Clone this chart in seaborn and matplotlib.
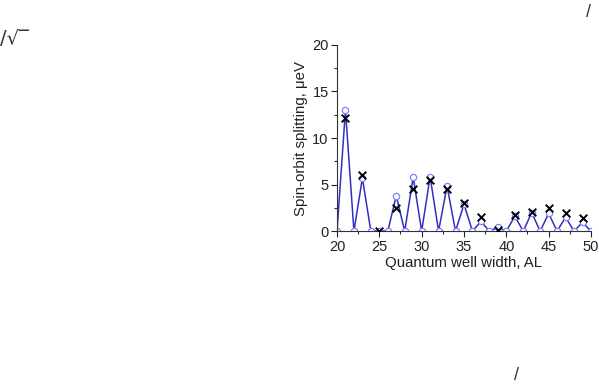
import numpy as np
import pandas as pd
import matplotlib
matplotlib.use("Agg")
import matplotlib.pyplot as plt
import seaborn as sns
from matplotlib.ticker import MultipleLocator

# quantum well width (atomic layers)
width = list(range(20, 51))
# calculated splitting (blue line with open circles)
calc = [0, 13.0, 0, 5.7, 0, 0.05, 0, 3.8, 0, 5.8, 0,
        5.85, 0, 4.85, 0, 2.9, 0, 1.05, 0, 0.4, 0,
        1.6, 0, 2.0, 0, 1.9, 0, 1.5, 0, 0.95, 0]
# odd widths, second model (black crosses)
odd_width = list(range(21, 50, 2))
model = [12.1, 6.0, 0.0, 2.45, 4.55, 5.45, 4.55, 3.0, 1.5, 0.1,
         1.7, 2.05, 2.5, 2.0, 1.45]

sns.set_style("ticks")
plt.rcParams['font.family'] = ['Liberation Sans', 'DejaVu Sans']

fig = plt.figure(figsize=(5.99, 3.84), dpi=100)
ax = fig.add_axes([0.5626, 0.398, 0.424, 0.485])

df = pd.DataFrame({"w": width, "s": calc})
sns.lineplot(x="w", y="s", data=df, ax=ax, color="#3030c0", linewidth=1.1,
             marker="o", markersize=4.5, markerfacecolor="white",
             markeredgecolor="#8080ff", markeredgewidth=0.9)
dm = pd.DataFrame({"w": odd_width, "s": model})
sns.scatterplot(x="w", y="s", data=dm, ax=ax, marker="x", color="black",
                s=30, linewidth=1.4, zorder=5)

ax.set_xlim(20, 50)
ax.set_ylim(0, 20)
ax.xaxis.set_major_locator(MultipleLocator(5))
ax.xaxis.set_minor_locator(MultipleLocator(2.5))
ax.yaxis.set_major_locator(MultipleLocator(5))
ax.yaxis.set_minor_locator(MultipleLocator(2.5))
ax.tick_params(which="major", length=4, width=0.8, labelsize=10.5, pad=2,
               colors="#222222")
ax.tick_params(which="minor", length=2.5, width=0.8)
for sp in ["left", "bottom"]:
    ax.spines[sp].set_color("#333333")
    ax.spines[sp].set_linewidth(0.8)
sns.despine(ax=ax)
ax.set_xlabel("Quantum well width, AL", fontsize=10.8, labelpad=2, color="#222222")
ax.set_ylabel("Spin-orbit splitting, \u03bceV", fontsize=10.8, labelpad=3,
              color="#222222")

# formula fragments around the figure
fig.text(0.0, 0.885, "/\u221a\u203e", fontsize=14, color="#333333",
         family=["DejaVu Sans"])
fig.text(0.978, 0.955, "/", fontsize=13, color="#333333")
fig.text(0.858, 0.01, "/", fontsize=13, color="#333333")

fig.savefig("out.png", dpi=100)
